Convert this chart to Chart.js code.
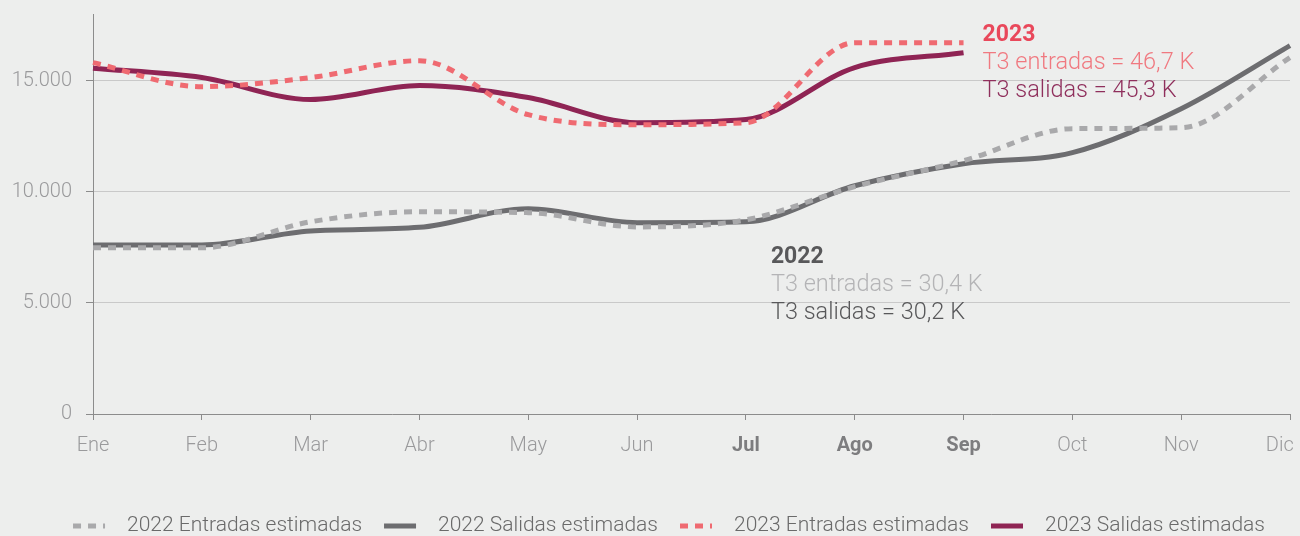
<!DOCTYPE html>
<html>
<head>
<meta charset="utf-8">
<script src="https://cdn.jsdelivr.net/npm/chart.js@4.4.1/dist/chart.umd.min.js"></script>
<style>
  html, body { margin: 0; padding: 0; background: #edeeed; }
  #wrap { width: 1300px; height: 536px; position: relative; }
</style>
</head>
<body>
<div id="wrap"><canvas id="flows-chart"></canvas></div>
<script>
// ============ DATA ===========================//

const months = ["Ene", "Feb", "Mar", "Abr", "May", "Jun", "Jul", "Ago", "Sep", "Oct", "Nov", "Dic"];
const boldMonths = ["Jul", "Ago", "Sep"];

const entradas2022 = [7480, 7480, 8650, 9100, 9060, 8420, 8740, 10230, 11400, 12840, 12880, 16040];
const salidas2022 = [7610, 7610, 8240, 8400, 9240, 8610, 8650, 10270, 11260, 11760, 13740, 16580];
const entradas2023 = [15810, 14730, 15140, 15900, 13470, 13020, 13110, 16710, 16710, null, null, null];
const salidas2023 = [15560, 15140, 14150, 14780, 14240, 13110, 13250, 15590, 16260, null, null, null];

const yTicks = [0, 5000, 10000, 15000];

const notes2023 = ["2023", "T3 entradas = 46,7 K", "T3 salidas = 45,3 K"];
const notes2022 = ["2022", "T3 entradas = 30,4 K", "T3 salidas = 30,2 K"];

const legendNames = ["2022 Entradas estimadas", "2022 Salidas estimadas", "2023 Entradas estimadas", "2023 Salidas estimadas"];

// ============ COLORS ===========================//

const grey2022In = "#a9a9ab";
const grey2022Out = "#6d6d70";
const red2023In = "#ef6a71";
const purple2023Out = "#8f2454";

const FONT = "Roboto";

// ============ EXTRA TEXT + LEGEND ===========================//

const extrasPlugin = {
  id: "extras",
  afterDraw(chart) {
    const ctx = chart.ctx;
    const x = chart.scales.x;

    ctx.save();
    ctx.textBaseline = "middle";
    ctx.textAlign = "left";

    // 2023 notes, next to Sep
    let nx = x.getPixelForValue(8) + 19;
    let ny = 35;
    const colors23 = ["#e9485b", "#f07980", "#8f2f5c"];
    notes2023.forEach((t, i) => {
      ctx.font = (i === 0 ? "bold 23px " : "300 23.5px ") + FONT;
      ctx.fillStyle = colors23[i];
      ctx.fillText(t, nx, ny + i * 28);
    });

    // 2022 notes, under Jul
    nx = x.getPixelForValue(6) + 25;
    ny = 257;
    const colors22 = ["#58585a", "#b4b4b6", "#58585a"];
    notes2022.forEach((t, i) => {
      ctx.font = (i === 0 ? "bold 23px " : "300 23.5px ") + FONT;
      ctx.fillStyle = colors22[i];
      ctx.fillText(t, nx, ny + i * 28);
    });

    // legend
    const sets = chart.data.datasets;
    ctx.font = "300 21px " + FONT;
    const sampleW = 32, sampleGap = 22, itemGap = 22;
    let total = 0;
    legendNames.forEach((n, i) => {
      total += sampleW + sampleGap + ctx.measureText(n).width;
      if (i < legendNames.length - 1) total += itemGap;
    });
    let lx = 669 - total / 2;
    const ly = 526;
    legendNames.forEach((n, i) => {
      const ds = sets[i];
      ctx.beginPath();
      ctx.lineWidth = 5;
      ctx.strokeStyle = ds.borderColor;
      ctx.setLineDash(ds.borderDash || []);
      ctx.moveTo(lx, ly);
      ctx.lineTo(lx + sampleW, ly);
      ctx.stroke();
      ctx.setLineDash([]);
      lx += sampleW + sampleGap;
      ctx.fillStyle = "#6a6a6a";
      ctx.fillText(n, lx, ly);
      lx += ctx.measureText(n).width + itemGap;
    });
    ctx.restore();
  }
};

// ============ CHART ===========================//

const flowsCanvas = document.getElementById("flows-chart");

let flowsChart = new Chart(flowsCanvas, {
  type: "line",
  data: {
    labels: months,
    datasets: [
      {
        label: legendNames[0],
        data: entradas2022,
        borderColor: grey2022In,
        borderWidth: 5,
        borderDash: [8, 7],
      },
      {
        label: legendNames[1],
        data: salidas2022,
        borderColor: grey2022Out,
        borderWidth: 5,
      },
      {
        label: legendNames[2],
        data: entradas2023,
        borderColor: red2023In,
        borderWidth: 5,
        borderDash: [8, 7],
      },
      {
        label: legendNames[3],
        data: salidas2023,
        borderColor: purple2023Out,
        borderWidth: 5,
      },
    ],
  },
  options: {
    responsive: true,
    maintainAspectRatio: false,
    animation: false,
    cubicInterpolationMode: "monotone",
    pointRadius: 0,
    pointHoverRadius: 0,
    spanGaps: false,
    layout: {
      padding: { left: 9, top: 14, right: 10, bottom: 64 },
    },
    plugins: {
      legend: { display: false },
      tooltip: { enabled: false },
    },
    scales: {
      x: {
        offset: false,
        afterFit: (scale) => {
          scale.paddingLeft = 0;
          scale.paddingRight = 0;
        },
        grid: {
          drawOnChartArea: false,
          tickColor: "#8c8c8c",
          tickLength: 6,
        },
        border: { color: "#8c8c8c", width: 1 },
        ticks: {
          padding: 14,
          maxRotation: 0,
          autoSkip: false,
          // last label pulled a bit inside the canvas
          callback: (v, i) => (i === months.length - 1 ? months[i] + "\u2002\u2002" : months[i]),
          font: (c) => ({
            family: FONT,
            size: 20,
            weight: boldMonths.includes(months[c.index]) ? "bold" : "300",
          }),
          color: (c) => (boldMonths.includes(months[c.index]) ? "#7d7d7f" : "#9a9a9c"),
        },
      },
      y: {
        min: 0,
        max: 18000,
        afterBuildTicks: (scale) => {
          scale.ticks = yTicks.map((v) => ({ value: v }));
        },
        afterFit: (scale) => {
          scale.width = 84;
          scale.paddingTop = 0;
          scale.paddingBottom = 0;
        },
        grid: {
          color: "#c9c9c9",
          tickColor: "#8c8c8c",
          tickLength: 7,
        },
        border: { color: "#8c8c8c", width: 1 },
        ticks: {
          padding: 14,
          font: { family: FONT, size: 20, weight: "300" },
          color: "#9a9a9c",
          callback: (v) => v.toLocaleString("de-DE"),
        },
      },
    },
  },
  plugins: [extrasPlugin],
});
</script>
</body>
</html>
